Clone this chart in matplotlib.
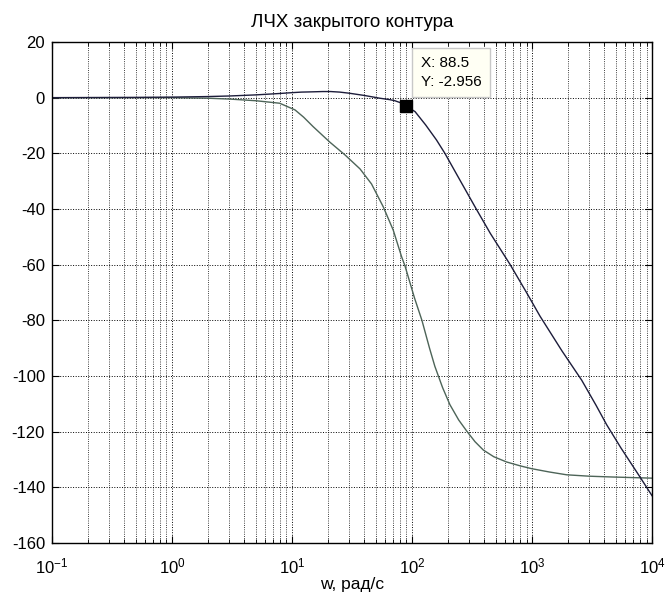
import matplotlib
matplotlib.use("Agg")
from matplotlib import pyplot as plt
from matplotlib.ticker import LogLocator, NullFormatter

plt.rcParams['font.family'] = ['Liberation Sans', 'DejaVu Sans']
plt.rcParams['mathtext.default'] = 'regular'
plt.rcParams['axes.unicode_minus'] = False

# closed-loop magnitude, dB
w_mag = [0.1, 0.5, 1, 2, 3, 5, 7.9, 10, 12, 15, 18, 21, 25, 30, 40, 54, 65, 72, 80, 88.5,
         106, 130, 160, 188, 250, 341, 450, 656, 900, 1166, 1778, 2594, 3415, 4188,
         5500, 7943, 10000]
mag_db = [0.0, 0.1, 0.2, 0.4, 0.6, 1.0, 1.5, 1.8, 2.0, 2.1, 2.2, 2.2, 2.0, 1.6, 0.8, -0.2,
          -0.7, -1.1, -1.8, -2.956, -5.0, -9.8, -15.2, -20.0, -29.5, -39.8, -48.8, -59.9,
          -70.0, -78.5, -91.0, -101.5, -110.5, -117.5, -125.8, -136.3, -143.0]

# second curve
w_2 = [0.1, 1, 2, 3, 5, 7.9, 10.6, 12.5, 15, 20.7, 27.7, 36.9, 46, 57.6, 69.8, 82, 87.5,
       105, 121, 140, 155, 180, 207, 245, 286, 335, 393, 480, 615, 800, 994, 1400,
       1946, 3000, 4760, 10000]
db_2 = [0.0, 0.0, -0.2, -0.5, -1.1, -2.0, -4.4, -7.0, -10.4, -16.0, -20.6, -25.6, -31.0,
        -39.2, -47.6, -57.2, -60.5, -72.0, -80.0, -90.0, -96.5, -104.2, -110.3, -115.8,
        -119.8, -123.6, -126.6, -129.0, -130.9, -132.3, -133.3, -134.5, -135.5, -136.0,
        -136.3, -136.7]

tip_w, tip_db = 88.5, -2.956

fig = plt.figure(figsize=(6.66, 6.0), dpi=100)
ax = fig.add_axes([0.078, 0.095, 0.901, 0.835])

ax.semilogx(w_2, db_2, color='#4d6458', linewidth=1.0)
ax.semilogx(w_mag, mag_db, color='#1c1c3a', linewidth=1.0)
ax.plot([tip_w], [tip_db], marker='s', markersize=8, color='black', linestyle='none')

ax.annotate(f"X: {tip_w}\nY: {tip_db}", xy=(tip_w, tip_db), xytext=(15, 17),
            textcoords='offset pixels', ha='left', va='bottom', fontsize=11,
            linespacing=1.4,
            bbox=dict(boxstyle='square,pad=0.55', facecolor='#fffff4', edgecolor='#c8c8c8'))

ax.set_xlim(0.1, 1e4)
ax.set_ylim(-160, 20)
ax.set_yticks(range(-160, 21, 20))
ax.xaxis.set_major_locator(LogLocator(base=10, numticks=10))
ax.xaxis.set_minor_locator(LogLocator(base=10, subs=range(2, 10), numticks=100))
ax.xaxis.set_minor_formatter(NullFormatter())

ax.grid(True, which='major', axis='both', linestyle=':', color='black', linewidth=0.7)
ax.grid(True, which='minor', axis='x', linestyle=':', color='black', linewidth=0.6)
ax.tick_params(which='both', direction='in', top=True, right=True, labelsize=12)
ax.tick_params(which='major', length=5)
ax.tick_params(axis='y', which='major', pad=5)
ax.tick_params(axis='x', which='major', pad=10)
ax.tick_params(which='minor', length=3)
for s in ax.spines.values():
    s.set_linewidth(1.0)

ax.set_title("ЛЧХ закрытого контура", fontsize=13.5, pad=11)
ax.set_xlabel("w, рад/с", fontsize=12.5, labelpad=0)

fig.savefig("out.png", dpi=100, facecolor='white')
